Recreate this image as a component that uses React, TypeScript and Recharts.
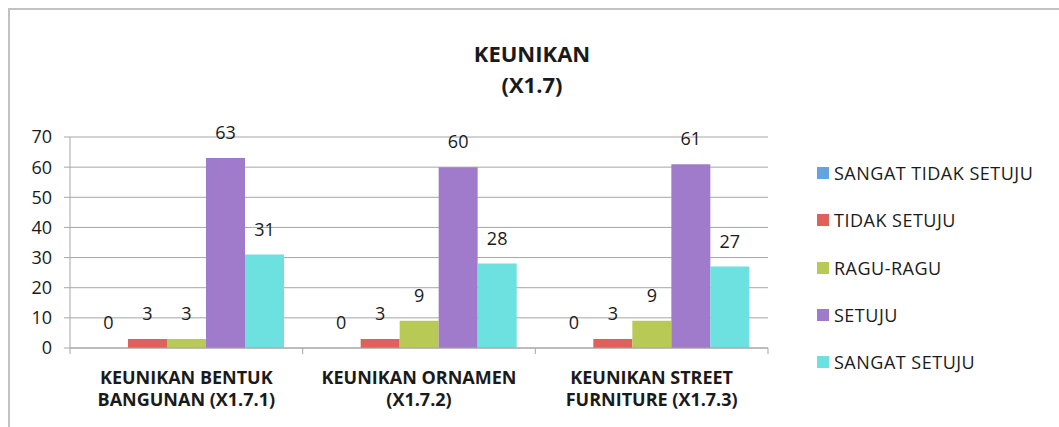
import React from "react";
import { BarChart, Bar, XAxis, YAxis, CartesianGrid, LabelList } from "recharts";

const categories = [
  "KEUNIKAN BENTUK BANGUNAN (X1.7.1)",
  "KEUNIKAN ORNAMEN (X1.7.2)",
  "KEUNIKAN STREET FURNITURE (X1.7.3)",
];
const categoryLines = [
  ["KEUNIKAN BENTUK", "BANGUNAN (X1.7.1)"],
  ["KEUNIKAN ORNAMEN", "(X1.7.2)"],
  ["KEUNIKAN STREET", "FURNITURE (X1.7.3)"],
];
const seriesNames = ["SANGAT TIDAK SETUJU", "TIDAK SETUJU", "RAGU-RAGU", "SETUJU", "SANGAT SETUJU"];
const sangatTidakSetuju = [0, 0, 0];
const tidakSetuju = [3, 3, 3];
const raguRagu = [3, 9, 9];
const setuju = [63, 60, 61];
const sangatSetuju = [31, 28, 27];
const yTicks = [0, 10, 20, 30, 40, 50, 60, 70];

const colors = ["#62a3e0", "#de625a", "#b9c955", "#a07bcb", "#6de0e0"];
const keys = ["s0", "s1", "s2", "s3", "s4"];
const seriesValues = [sangatTidakSetuju, tidakSetuju, raguRagu, setuju, sangatSetuju];

const data = categories.map((c, i) => {
  const row: any = { name: c };
  keys.forEach((k, j) => (row[k] = seriesValues[j][i]));
  return row;
});

const FONT = "'Open Sans', sans-serif";
const GRID = "#a6a6a6";
const TEXT = "#1a1a1a";

const CatTick = (props: any) => {
  const { x, y, index, payload } = props;
  const lines = categoryLines[index] || [];
  const off = payload && payload.offset ? payload.offset : 0;
  return (
    <g>
      <line x1={x - off} y1={y} x2={x - off} y2={y + 6} stroke={GRID} />
      {index === categories.length - 1 && <line x1={x + off} y1={y} x2={x + off} y2={y + 6} stroke={GRID} />}
      <text x={x} y={y} textAnchor="middle" fontFamily={FONT} fontWeight="bold" fontSize={18} fill={TEXT}>
        <tspan x={x} dy={36}>{lines[0]}</tspan>
        <tspan x={x} dy={22}>{lines[1]}</tspan>
      </text>
    </g>
  );
};

export default function App() {
  return (
    <div style={{ position: "fixed", left: 0, top: 0, width: 1059, height: 427, overflow: "hidden", background: "#fff" }}>
      <div style={{ position: "absolute", left: 8, top: 8 }}>
        <BarChart
          width={1051}
          height={419}
          data={data}
          margin={{ top: 129, right: 291, left: 0, bottom: 0 }}
          barCategoryGap={19}
          barGap={0}
        >
          <CartesianGrid horizontal={true} vertical={false} stroke={GRID} />
          <XAxis
            dataKey="name"
            height={79}
            tickSize={0}
            tickMargin={0}
            tickLine={false}
            axisLine={{ stroke: GRID }}
            tick={<CatTick />}
            interval={0}
          />
          <YAxis
            width={62}
            domain={[0, 70]}
            ticks={yTicks}
            tickSize={6}
            tickMargin={12}
            axisLine={{ stroke: GRID }}
            tickLine={{ stroke: GRID }}
            tick={{ fontFamily: FONT, fontSize: 18, fill: TEXT }}
          />
          {keys.map((k, i) => (
            <Bar
              key={k}
              dataKey={k}
              name={seriesNames[i]}
              fill={colors[i]}
              minPointSize={0.01}
              isAnimationActive={false}
            >
              <LabelList dataKey={k} position="top" offset={19} fontFamily={FONT} fontSize={18} fill={TEXT} />
            </Bar>
          ))}
        </BarChart>
      </div>
      <div
        style={{
          position: "absolute",
          left: 8,
          top: 8,
          width: 1100,
          height: 500,
          borderTop: "2px solid #c2c2c2",
          borderLeft: "2px solid #c2c2c2",
          pointerEvents: "none",
        }}
      />
      <div
        style={{
          position: "absolute",
          left: 0,
          top: 38,
          width: 1064,
          textAlign: "center",
          fontFamily: FONT,
          fontWeight: "bold",
          fontSize: 22,
          lineHeight: "31px",
          color: TEXT,
        }}
      >
        <div>KEUNIKAN</div>
        <div>(X1.7)</div>
      </div>
      <div
        style={{
          position: "absolute",
          left: 817,
          top: 149.5,
          fontFamily: FONT,
          fontSize: 18,
          letterSpacing: 0.5,
          color: TEXT,
        }}
      >
        {seriesNames.map((n, i) => (
          <div key={n} style={{ height: 47.25, display: "flex", alignItems: "center", whiteSpace: "nowrap" }}>
            <span style={{ display: "inline-block", width: 12, height: 12, background: colors[i], marginRight: 5 }} />
            <span>{n}</span>
          </div>
        ))}
      </div>
    </div>
  );
}
